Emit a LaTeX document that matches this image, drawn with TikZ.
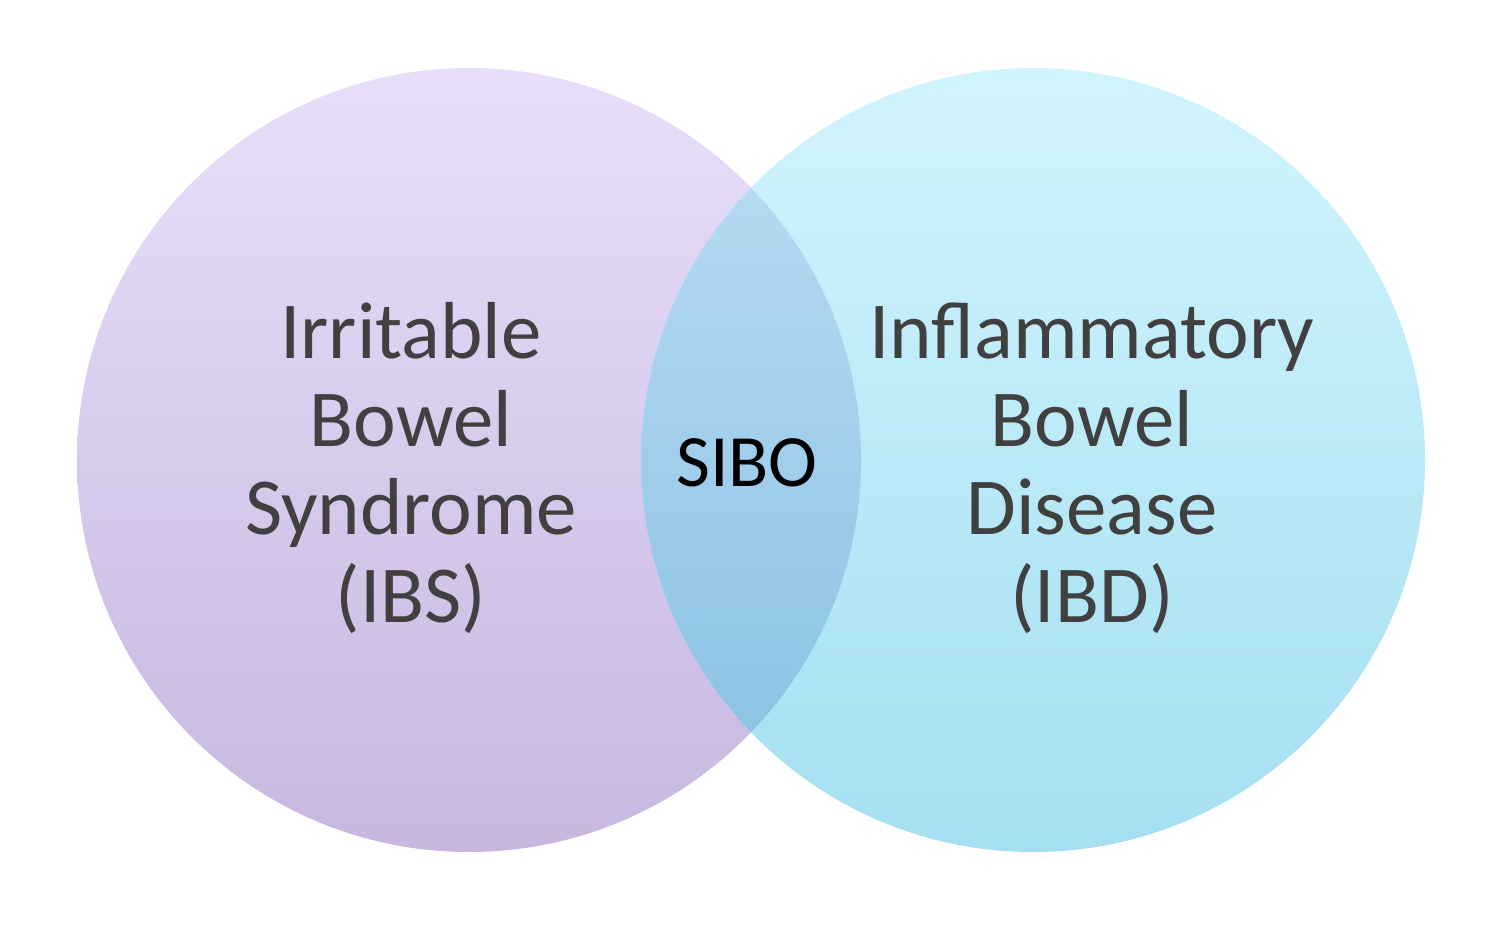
\documentclass[tikz,border=0pt]{standalone}
\usepackage{fontspec}
\setmainfont{Carlito}
\definecolor{ibstop}{RGB}{231,223,249}
\definecolor{ibsbot}{RGB}{199,183,223}
\definecolor{ibdtop}{RGB}{209,244,253}
\definecolor{ibdbot}{RGB}{164,223,241}
\definecolor{sibotop}{RGB}{189,222,245}
\definecolor{sibobot}{RGB}{133,190,226}
\definecolor{txtgray}{RGB}{64,64,64}
\begin{document}
\begin{tikzpicture}[line join=round,
	disease/.style={align=center, text=txtgray, inner sep=0pt, font=\fontsize{46}{50}\selectfont},
	overlap/.style={text=black, inner sep=0pt, font=\fontsize{42}{46}\selectfont}]
	\def\r{7.84}
	\useasboundingbox (0,0) rectangle (30,18.96);
	\coordinate (L) at (9.38,9.76);
	\coordinate (R) at (20.66,9.76);
	% circles
	\shade[top color=ibstop, bottom color=ibsbot] (L) circle (\r);
	\shade[top color=ibdtop, bottom color=ibdbot] (R) circle (\r);
	\begin{scope}
		\clip (L) circle (\r);
		\shade[top color=sibotop, bottom color=sibobot] (R) circle (\r);
	\end{scope}
	% texts
	\node[disease] (ibs) at (8.22,9.6) {Irritable\\Bowel\\Syndrome\\(IBS)};
	\node[disease] (ibd) at (21.84,9.6) {Inflammatory\\Bowel\\Disease\\(IBD)};
	\node[overlap, anchor=base] (sibo) at (14.94,9.22) {SIBO};
\end{tikzpicture}
\end{document}
